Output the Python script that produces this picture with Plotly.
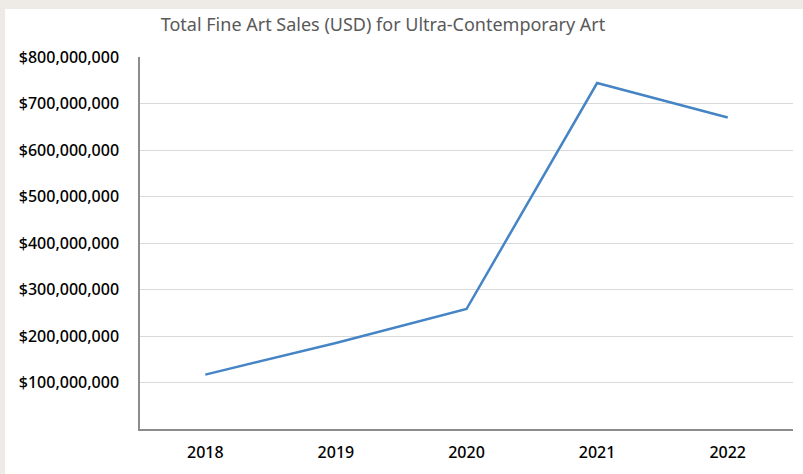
import plotly.graph_objects as go

years = ["2018", "2019", "2020", "2021", "2022"]
sales = [117_000_000, 185_000_000, 258_000_000, 744_000_000, 670_000_000]
y_ticks = [100_000_000, 200_000_000, 300_000_000, 400_000_000,
           500_000_000, 600_000_000, 700_000_000, 800_000_000]
y_tick_labels = ["${:,}".format(v) for v in y_ticks]

fig = go.Figure()
fig.add_trace(go.Scatter(x=years, y=sales, mode="lines",
                         line=dict(color="#4584C5", width=2.5),
                         hoverinfo="skip"))

W, H = 803, 474
L, R, T, B = 140, 10, 57, 45
pw, ph = W - L - R, H - T - B

fig.add_shape(type="rect", xref="paper", yref="paper", layer="below",
              x0=(5 - L) / pw, x1=(W + 5 - L) / pw,
              y0=(H - B - (H + 5)) / ph, y1=(H - B - 9) / ph,
              fillcolor="white", line=dict(width=0))

fig.update_layout(
    width=W, height=H,
    margin=dict(l=L, r=R, t=T, b=B, autoexpand=False),
    paper_bgcolor="#EEEBE6",
    plot_bgcolor="rgba(0,0,0,0)",
    showlegend=False,
    font=dict(family="Noto Sans", color="#000000"),
    title=dict(text="Total Fine Art Sales (USD) for Ultra-Contemporary Art",
               x=383 / W, xanchor="center", y=1 - 25 / H, yanchor="middle",
               font=dict(size=18, color="#595959", family="Noto Sans")),
)
fig.update_xaxes(type="category", showgrid=False, showline=True,
                 linecolor="#8C8C8C", linewidth=1.5, ticks="",
                 tickfont=dict(size=16, color="#000000", weight=500), ticklabelstandoff=8,
                 range=[-0.5, 4.5], automargin=False)
fig.update_yaxes(range=[0, 800_000_000], tickvals=y_ticks, ticktext=y_tick_labels,
                 showgrid=True, gridcolor="#D9D9D9", gridwidth=1,
                 showline=True, linecolor="#8C8C8C", linewidth=1.5,
                 zeroline=False, ticks="", tickfont=dict(size=16, color="#000000", weight=500),
                 ticklabelstandoff=16, automargin=False)

fig.write_html("out.html", config={"displayModeBar": False},
               post_script="document.body.style.margin='0';")
